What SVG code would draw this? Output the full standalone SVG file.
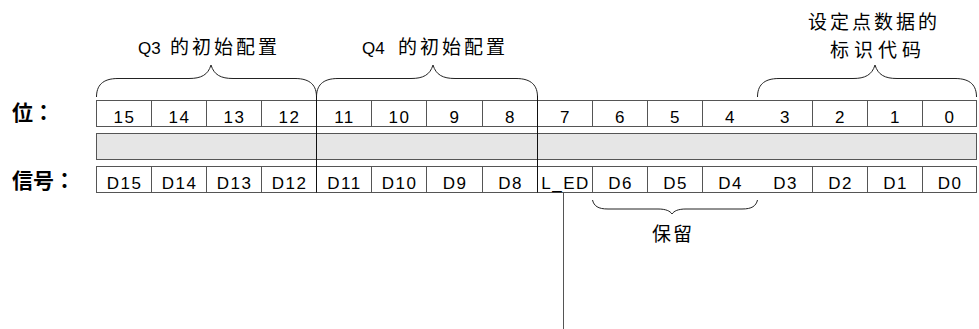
<svg xmlns="http://www.w3.org/2000/svg" width="979" height="329" viewBox="0 0 979 329">
<style>
.cell{fill:#fff;stroke:#555;stroke-width:1}
.gray{fill:#e6e6e6;stroke:#555;stroke-width:1}
.sep{stroke:#555;stroke-width:1}
.div{stroke:#111;stroke-width:1}
.brace{fill:none;stroke:#222;stroke-width:1}
.num{font-family:"Liberation Sans",Arial,sans-serif;font-size:17px;letter-spacing:1.5px;text-anchor:middle;fill:#000}
.lat{font-family:"Liberation Sans",Arial,sans-serif;font-size:17px;fill:#000}
.cjk{font-family:"Noto Sans CJK SC","Noto Sans CJK JP",sans-serif;font-size:19px;letter-spacing:3px;fill:#000}
.lab{font-family:"Noto Sans CJK JP","Noto Sans CJK SC",sans-serif;font-size:21px;font-weight:bold;fill:#000}
</style>
<rect width="979" height="329" fill="#fff"/>
<g id="row-labels">
<text class="lab" x="12" y="120">位：</text>
<text class="lab" x="12" y="188">信号：</text>
</g>
<g id="bits-row">
<rect class="cell" x="96.5" y="100.5" width="880" height="26"/>
<path class="sep" d="M151.5,100.5V126.5M206.5,100.5V126.5M261.5,100.5V126.5M371.5,100.5V126.5M426.5,100.5V126.5M482.5,100.5V126.5M592.5,100.5V126.5M647.5,100.5V126.5M702.5,100.5V126.5M812.5,100.5V126.5M867.5,100.5V126.5M922.5,100.5V126.5"/>
<text class="num" x="124.5" y="123">15</text>
<text class="num" x="179.5" y="123">14</text>
<text class="num" x="234.5" y="123">13</text>
<text class="num" x="289.5" y="123">12</text>
<text class="num" x="344.5" y="123">11</text>
<text class="num" x="399.5" y="123">10</text>
<text class="num" x="455" y="123">9</text>
<text class="num" x="510.5" y="123">8</text>
<text class="num" x="565.5" y="123">7</text>
<text class="num" x="620.5" y="123">6</text>
<text class="num" x="675.5" y="123">5</text>
<text class="num" x="730.5" y="123">4</text>
<text class="num" x="785.5" y="123">3</text>
<text class="num" x="840.5" y="123">2</text>
<text class="num" x="895.5" y="123">1</text>
<text class="num" x="950" y="123">0</text>
</g>
<g id="value-row">
<rect class="gray" x="96.5" y="133.5" width="880" height="26"/>
</g>
<g id="signal-row">
<rect class="cell" x="96.5" y="166.5" width="880" height="26"/>
<path class="sep" d="M151.5,166.5V192.5M206.5,166.5V192.5M261.5,166.5V192.5M371.5,166.5V192.5M426.5,166.5V192.5M482.5,166.5V192.5M592.5,166.5V192.5M647.5,166.5V192.5M702.5,166.5V192.5M812.5,166.5V192.5M867.5,166.5V192.5M922.5,166.5V192.5"/>
<text class="num" x="124.5" y="189">D15</text>
<text class="num" x="179.5" y="189">D14</text>
<text class="num" x="234.5" y="189">D13</text>
<text class="num" x="289.5" y="189">D12</text>
<text class="num" x="344.5" y="189">D11</text>
<text class="num" x="399.5" y="189">D10</text>
<text class="num" x="455" y="189">D9</text>
<text class="num" x="510.5" y="189">D8</text>
<text class="num" x="565.5" y="189">L_ED</text>
<text class="num" x="620.5" y="189">D6</text>
<text class="num" x="675.5" y="189">D5</text>
<text class="num" x="730.5" y="189">D4</text>
<text class="num" x="785.5" y="189">D3</text>
<text class="num" x="840.5" y="189">D2</text>
<text class="num" x="895.5" y="189">D1</text>
<text class="num" x="950" y="189">D0</text>
</g>
<g id="q3-group">
<path class="brace" d="M96.5,97 C96.5,86 102,78.5 118,78.5 L189,78.5 C201,78.5 208,75 211,65 C214,75 221,78.5 233,78.5 L295,78.5 C311,78.5 316.5,86 316.5,97"/>
<text y="53.5"><tspan class="lat" x="138">Q3</tspan><tspan class="cjk" x="170">的初始配置</tspan></text>
</g>
<g id="q4-group">
<path class="brace" d="M316.5,97 C316.5,86 322,78.5 338,78.5 L411,78.5 C423,78.5 430,75 433,65 C436,75 443,78.5 455,78.5 L516,78.5 C532,78.5 537.5,86 537.5,97"/>
<text y="53.5"><tspan class="lat" x="362">Q4</tspan><tspan class="cjk" x="398">的初始配置</tspan></text>
</g>
<g id="id-code-group">
<path class="brace" d="M757.5,97 C757.5,86 763,78.5 779,78.5 L853,78.5 C865,78.5 872,75 875,65 C878,75 885,78.5 897,78.5 L955,78.5 C971,78.5 976.5,86 976.5,97"/>
<text class="cjk" x="808" y="28.5">设定点数据的</text>
<text class="cjk" x="830" y="57" style="letter-spacing:5px">标识代码</text>
</g>
<g id="reserved-group">
<path class="brace" d="M592.5,200 C594,206 598,209 608,209 L658,209 C666,209 670,211 672,214 C674,211 678,209 686,209 L742,209 C752,209 756,206 757.5,200"/>
<text class="cjk" x="652" y="240.5" style="letter-spacing:2px">保留</text>
</g>
<g id="connectors">
<path class="div" d="M316.5,96V192.5M537.5,96V192.5"/>
<path class="sep" d="M563.5,192.5V329"/>
</g>
</svg>
